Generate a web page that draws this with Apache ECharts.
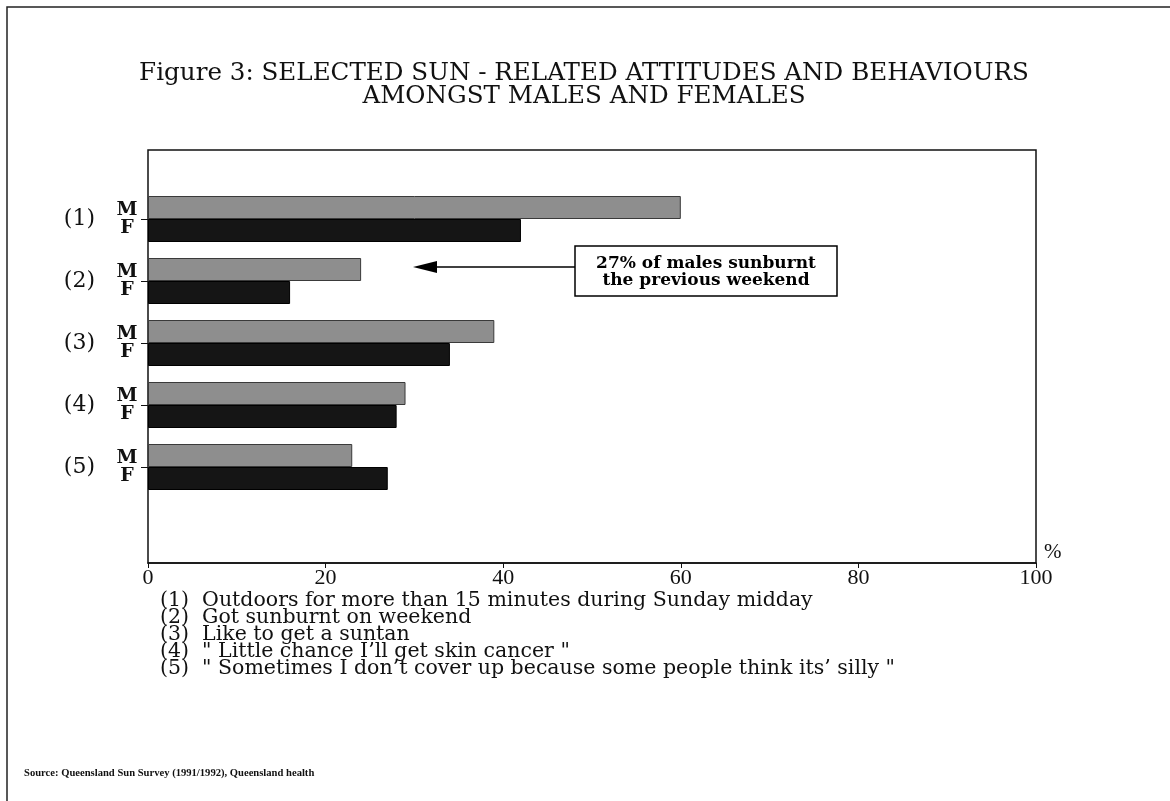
<!DOCTYPE html>
<html>
<head>
<meta charset="utf-8">
<script src="https://cdn.jsdelivr.net/npm/echarts@6/dist/echarts.min.js"></script>
<style>
  html, body { margin: 0; padding: 0; background: #fff; }
  #chart { width: 1170px; height: 801px; }
</style>
</head>
<body>
<div id="chart"></div>
<script>
// Survey items, percentages of males and females
const categories = ['(1)', '(2)', '(3)', '(4)', '(5)'];
const males = [60, 24, 39, 29, 23];
const females = [42, 16, 34, 28, 27];
const xTicks = [0, 20, 40, 60, 80, 100];
const notes = [
  '(1)  Outdoors for more than 15 minutes during Sunday midday',
  '(2)  Got sunburnt on weekend',
  '(3)  Like to get a suntan',
  '(4)  " Little chance I\u2019ll get skin cancer "',
  '(5)  " Sometimes I don\u2019t cover up because some people think its\u2019 silly "'
];
const titleLines = [
  'Figure 3: SELECTED SUN - RELATED ATTITUDES AND BEHAVIOURS',
  'AMONGST MALES AND FEMALES'
];
const calloutText = ['27% of males sunburnt', 'the previous weekend'];
const sourceText = 'Source: Queensland Sun Survey (1991/1992), Queensland health';

const serif = '"DejaVu Serif", "Liberation Serif", serif';
const narrowSerif = '"Liberation Serif", "DejaVu Serif", serif';
const ink = '#111';

const chart = echarts.init(document.getElementById('chart'), null, { renderer: 'canvas' });

chart.setOption({
  animation: false,
  backgroundColor: '#fff',
  title: [
    {
      text: titleLines.join('\n'),
      left: 579,
      top: 57,
      textAlign: 'center',
      textStyle: { fontFamily: serif, fontSize: 24.6, fontWeight: 'normal', color: ink, lineHeight: 23 }
    },
    {
      text: notes.join('\n'),
      left: 155,
      top: 587,
      textStyle: { fontFamily: serif, fontSize: 20.5, fontWeight: 'normal', color: ink, lineHeight: 17 }
    },
    {
      text: sourceText,
      left: 19,
      top: 763,
      textStyle: { fontFamily: narrowSerif, fontSize: 10.6, fontWeight: 'bold', color: ink }
    }
  ],
  grid: [
    // outer plot frame with the percentage scale
    {
      left: 148, right: 134, top: 150, bottom: 238,
      show: true, borderColor: ink, borderWidth: 1.5, backgroundColor: 'transparent'
    },
    // band area that holds the five bar pairs
    { left: 148, right: 134, top: 188, bottom: 303, show: false }
  ],
  xAxis: [
    {
      gridIndex: 0,
      type: 'value',
      min: xTicks[0],
      max: xTicks[xTicks.length - 1],
      interval: xTicks[1] - xTicks[0],
      name: '%',
      nameLocation: 'end',
      nameGap: 8,
      nameTextStyle: { fontFamily: narrowSerif, fontSize: 21, color: ink, verticalAlign: 'bottom' },
      axisLine: { show: true, lineStyle: { color: ink, width: 1.5 } },
      axisTick: { show: true, length: 5, lineStyle: { color: ink } },
      axisLabel: { fontFamily: narrowSerif, fontSize: 22, color: ink, margin: 4 },
      splitLine: { show: false }
    },
    {
      gridIndex: 1,
      type: 'value',
      min: xTicks[0],
      max: xTicks[xTicks.length - 1],
      show: false
    }
  ],
  yAxis: [
    { gridIndex: 0, type: 'value', min: 0, max: 1, show: false },
    {
      gridIndex: 1,
      type: 'category',
      data: categories,
      inverse: true,
      position: 'left',
      axisLine: { show: false },
      axisTick: { show: true, alignWithLabel: true, length: 7, lineStyle: { color: ink } },
      axisLabel: { fontFamily: serif, fontSize: 22, color: ink, margin: 53 }
    },
    {
      gridIndex: 1,
      type: 'category',
      data: categories,
      inverse: true,
      position: 'left',
      axisLine: { show: false },
      axisTick: { show: false },
      axisLabel: {
        formatter: () => 'M\nF',
        fontFamily: serif, fontSize: 19, fontWeight: 'bold', color: ink, lineHeight: 18,
        align: 'center', margin: 21
      }
    }
  ],
  series: [
    {
      name: 'M',
      type: 'bar',
      xAxisIndex: 1,
      yAxisIndex: 1,
      data: males,
      barWidth: 23,
      barGap: '0%',
      itemStyle: { color: '#8e8e8e', borderColor: '#3a3a3a', borderWidth: 1 }
    },
    {
      name: 'F',
      type: 'bar',
      xAxisIndex: 1,
      yAxisIndex: 1,
      data: females,
      barWidth: 23,
      barGap: '0%',
      itemStyle: { color: '#151515', borderColor: '#000', borderWidth: 1 }
    }
  ],
  graphic: [
    {
      type: 'polyline',
      shape: { points: [[7, 801], [7, 7], [1170, 7]] },
      style: { stroke: '#222', lineWidth: 1.5, fill: null }
    },
    {
      type: 'line',
      shape: { x1: 575, y1: 267, x2: 430, y2: 267 },
      style: { stroke: '#000', lineWidth: 1.5 }
    },
    {
      type: 'polygon',
      shape: { points: [[413, 267], [437, 261], [437, 273]] },
      style: { fill: '#000' }
    },
    {
      type: 'rect',
      shape: { x: 575, y: 246, width: 262, height: 50 },
      style: { fill: '#fff', stroke: '#000', lineWidth: 1.5 }
    },
    {
      type: 'text',
      x: 706, y: 272,
      style: {
        text: calloutText.join('\n'),
        fontFamily: serif, fontSize: 17, fontWeight: 'bold',
        lineHeight: 17, align: 'center', verticalAlign: 'middle', fill: '#000'
      }
    }
  ]
});
</script>
</body>
</html>
